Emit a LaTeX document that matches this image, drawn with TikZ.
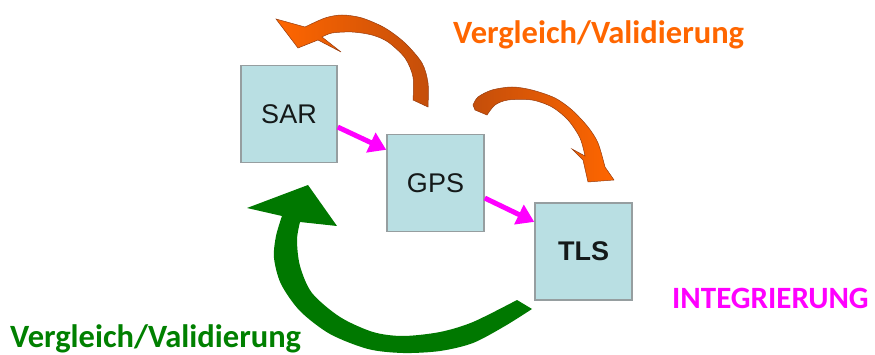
\documentclass[tikz,border=0pt]{standalone}
\usepackage{fontspec}
\setmainfont{Carlito}
\newfontfamily\arialfont{Liberation Sans}
\usetikzlibrary{arrows.meta}
\definecolor{boxfill}{RGB}{185,223,227}
\definecolor{boxline}{RGB}{150,158,160}
\definecolor{boxtext}{RGB}{20,25,25}
\definecolor{orangetext}{RGB}{255,102,0}
\definecolor{greentext}{RGB}{0,128,0}
\definecolor{arrgreen}{RGB}{0,120,0}
\definecolor{orangelight}{RGB}{255,102,0}
\definecolor{orangedark}{RGB}{196,78,10}
\definecolor{orangeedge}{RGB}{150,60,15}
\definecolor{magentaarrow}{RGB}{255,0,255}
\begin{document}
\begin{tikzpicture}[x=1pt,y=-1pt,
  sysbox/.style={draw=boxline,line width=1.5pt,fill=boxfill,minimum width=96pt,minimum height=97pt,inner sep=0pt,text=boxtext,font=\arialfont\fontsize{27}{32}\selectfont},
  lbl/.style={anchor=base west,inner sep=0pt,font=\bfseries\fontsize{32.5}{38}\selectfont},
  flow/.style={magentaarrow,line width=5pt,-{Triangle[length=17pt,width=21pt]}},
  bentorange/.style={draw=orangeedge,line width=0.5pt}]
\useasboundingbox (0,0) rectangle (875,355);

% boxes
\node[sysbox] (SAR) at (289,114) {\raisebox{-7pt}{SAR}};
\node[sysbox,minimum width=97pt] (GPS) at (435.5,183) {\raisebox{-7pt}{GPS}};
\node[sysbox,minimum width=97pt] (TLS) at (583.5,251.5) {\raisebox{-5pt}{\bfseries TLS}};

% magenta connectors
\draw[flow] (SAR.-15) -- (GPS.146);
\draw[flow] (GPS.-17) -- (TLS.149);

% orange curved arrow (top left)
\path[bentorange,left color=orangelight,right color=orangedark]
  (276,19) -- (298,48) -- (318,40) -- (341,52) -- (322,37)
  -- plot[smooth] coordinates {(322,37) (332,33) (352,32) (372,35) (388,42) (405,58) (413,77) (413,100)}
  -- (428,107)
  -- plot[smooth] coordinates {(428,107) (428,83) (422,63) (405,43) (385,28) (362,18) (342,15) (325,18) (305,27)}
  -- cycle;

% orange curved arrow (top right)
\path[bentorange,left color=orangedark,right color=orangelight]
  (473,105) -- plot[smooth] coordinates {(473,105) (478,97) (492,90) (512,87) (532,90) (555,98) (572,110) (588,127) (598,143) (605,167)}
  -- (614,180) -- (588,182) -- (583,160) -- (572,149) -- (585,156)
  -- plot[smooth] coordinates {(585,156) (580,138) (568,120) (552,107) (532,100) (508,100) (495,105) (487,115)}
  -- (475,110) -- cycle;

% green curved arrow
\fill[arrgreen] (282,216) -- (247,208) -- (308,185) -- (337,226) -- (300,222)
  -- plot[smooth] coordinates {(300,222) (297,240) (300,266) (312,293) (340,317) (373,332) (403,336) (440,332) (473,322) (517,300)}
  -- (532,309)
  -- plot[smooth] coordinates {(532,309) (505,326) (473,343) (440,351) (403,353) (368,349) (330,334) (300,311) (281,284) (274,258) (276,236) (282,216)}
  -- cycle;

% labels
\node[lbl,text=orangetext] (lblTop) at (453,44) {Vergleich/Validierung};
\node[lbl,text=greentext] (lblBottom) at (10,347) {Vergleich/Validierung};
\node[lbl,text=magentaarrow,font=\bfseries\fontsize{31}{36}\selectfont] (lblInt) at (672,308) {INTEGRIERUNG};
\end{tikzpicture}
\end{document}
